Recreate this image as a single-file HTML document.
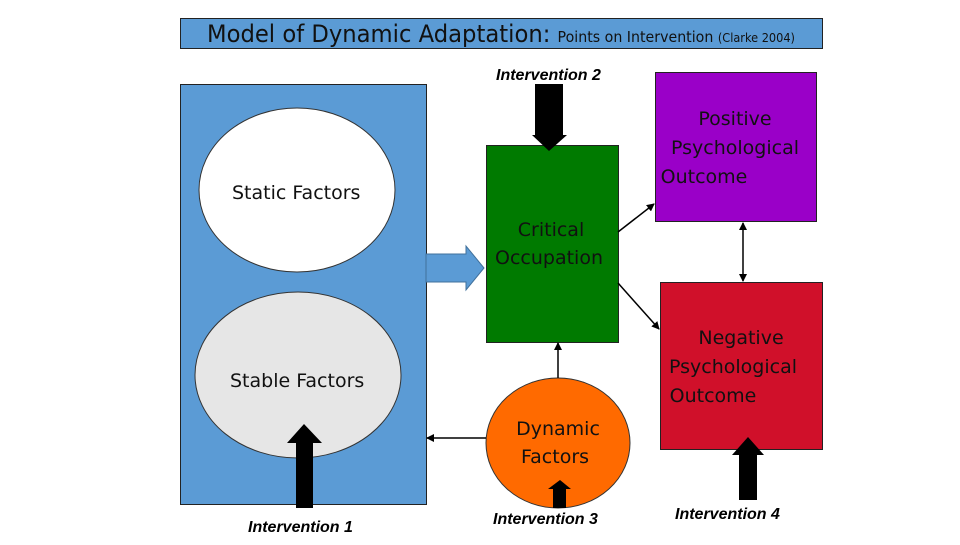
<!DOCTYPE html>
<html><head><style>
body{margin:0;width:960px;height:540px;background:#fff;overflow:hidden}
svg text{font-family:"Liberation Sans",sans-serif}
.c{font-family:"DejaVu Sans","Liberation Sans",sans-serif;font-size:19px;fill:#111}
.i{font-style:italic;font-weight:bold;font-size:16px;fill:#000}
</style></head><body>
<svg width="960" height="540" xmlns="http://www.w3.org/2000/svg">
<defs><marker id="a" markerWidth="8" markerHeight="8" refX="7" refY="4" orient="auto-start-reverse" markerUnits="userSpaceOnUse"><path d="M0,0 L8,4 L0,8 z" fill="#000"/></marker></defs>
<rect x="180.5" y="18.5" width="642" height="30" fill="#5b9bd5" stroke="#222"/>
<text x="207" y="42" font-size="24" fill="#111" style="font-family:'DejaVu Sans',sans-serif" textLength="588" lengthAdjust="spacingAndGlyphs">Model of Dynamic Adaptation: <tspan font-size="15">Points on Intervention <tspan font-size="12">(Clarke 2004)</tspan></tspan></text>
<rect x="180.5" y="84.5" width="246" height="420" fill="#5b9bd5" stroke="#222"/>
<ellipse cx="297" cy="190" rx="98" ry="82" fill="#fff" stroke="#333"/>
<ellipse cx="298" cy="375" rx="103" ry="83" fill="#e6e6e6" stroke="#333"/>
<text class="c" x="232" y="199">Static Factors</text>
<text class="c" x="230" y="387">Stable Factors</text>
<path d="M426,254 H466 V246 L484,268 L466,290 V282 H426 Z" fill="#5b9bd5" stroke="#41719c"/>
<rect x="486.5" y="145.5" width="132" height="197" fill="#007a00" stroke="#222"/>
<text class="c" x="551" y="236" text-anchor="middle">Critical</text>
<text class="c" x="549" y="264" text-anchor="middle">Occupation</text>
<rect x="655.5" y="72.5" width="161" height="149" fill="#9a00c8" stroke="#222"/>
<text class="c" x="735" y="125" text-anchor="middle">Positive</text>
<text class="c" x="735" y="154" text-anchor="middle">Psychological</text>
<text class="c" x="704" y="183" text-anchor="middle">Outcome</text>
<rect x="660.5" y="282.5" width="162" height="167" fill="#d0102a" stroke="#222"/>
<text class="c" x="741" y="344" text-anchor="middle">Negative</text>
<text class="c" x="733" y="373" text-anchor="middle">Psychological</text>
<text class="c" x="713" y="402" text-anchor="middle">Outcome</text>
<ellipse cx="558" cy="443" rx="72" ry="65" fill="#ff6a00" stroke="#333"/>
<text class="c" x="558" y="435" text-anchor="middle">Dynamic</text>
<text class="c" x="555" y="463" text-anchor="middle">Factors</text>
<g stroke="#000" stroke-width="1.5" fill="none">
<line x1="618" y1="232" x2="654" y2="204" marker-end="url(#a)"/>
<line x1="618" y1="283" x2="659" y2="329" marker-end="url(#a)"/>
<line x1="743" y1="223" x2="743" y2="281" marker-start="url(#a)" marker-end="url(#a)"/>
<line x1="558" y1="378" x2="558" y2="343" marker-end="url(#a)"/>
<line x1="486" y1="438" x2="427" y2="438" marker-end="url(#a)"/>
</g>
<path d="M535,84 H563 V135 H567 L549,151 L532,135 H535 Z" fill="#000"/>
<path d="M296,508 H313 V443 H322 L304,424 L287,443 H296 Z" fill="#000"/>
<path d="M739,500 H757 V455 H764 L748,437 L732,455 H739 Z" fill="#000"/>
<path d="M553,508 H566 V489 H571 L560,480 L548,489 H553 Z" fill="#000"/>
<text class="i" x="496" y="80">Intervention 2</text>
<text class="i" x="248" y="532">Intervention 1</text>
<text class="i" x="493" y="524">Intervention 3</text>
<text class="i" x="675" y="519">Intervention 4</text>
</svg>
</body></html>
